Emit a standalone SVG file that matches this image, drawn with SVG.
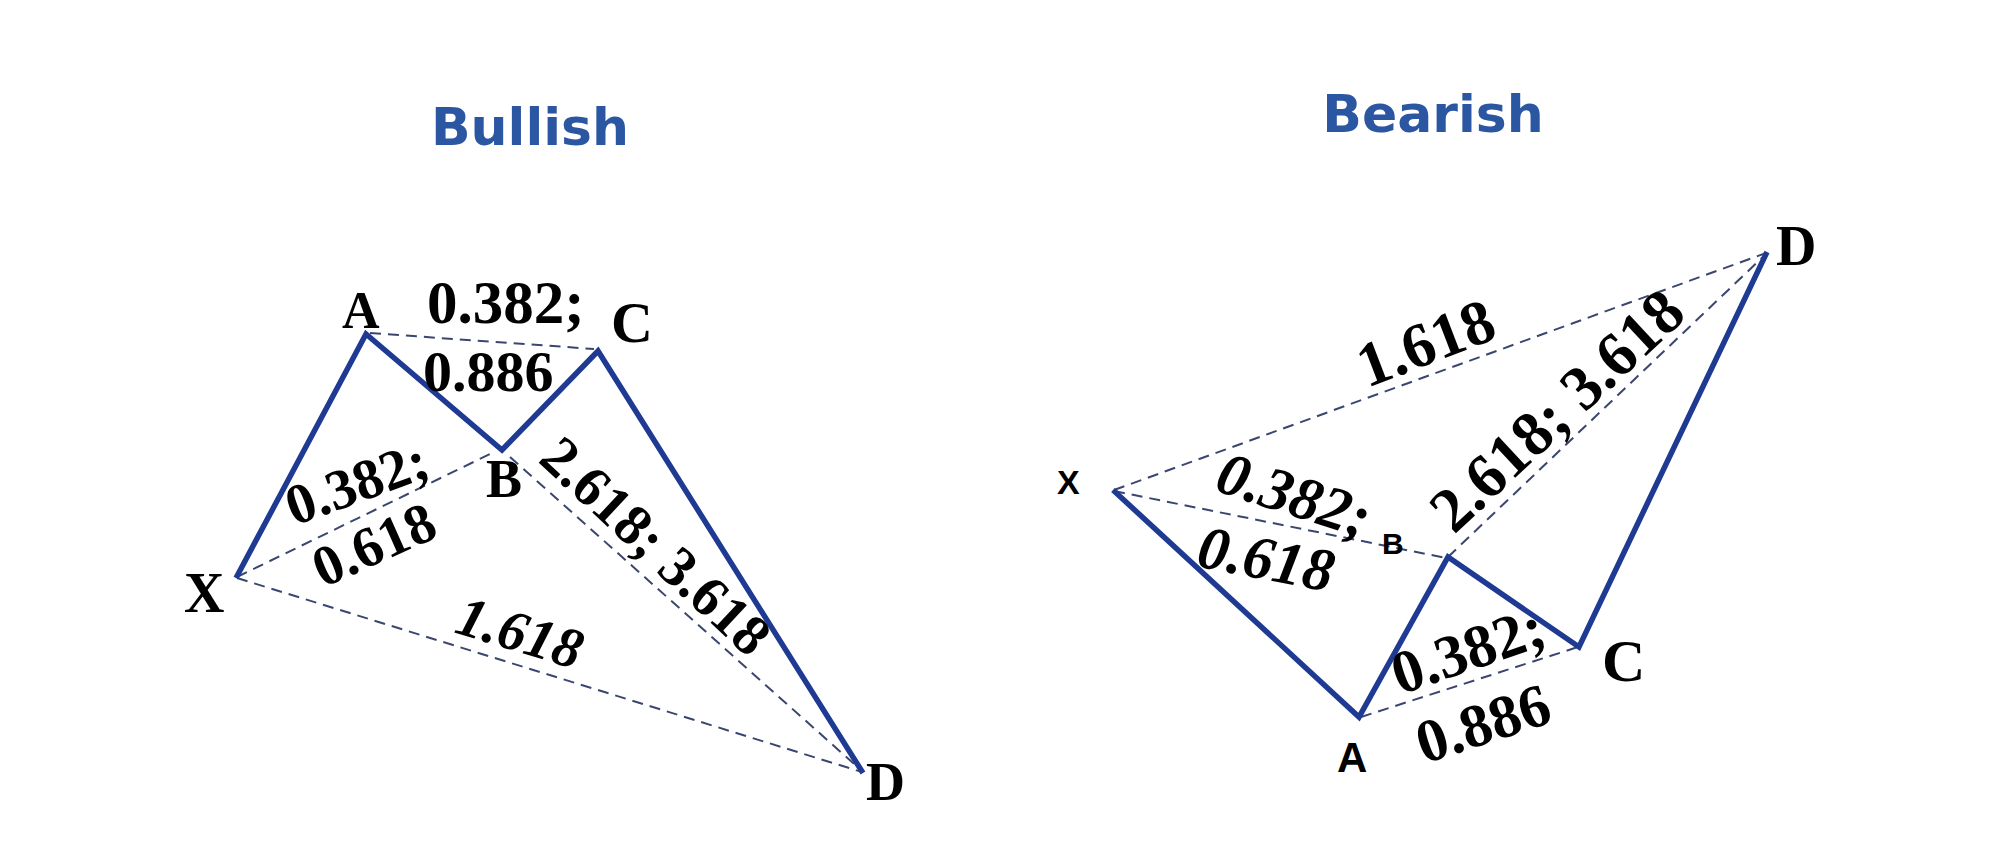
<svg xmlns="http://www.w3.org/2000/svg" width="1991" height="865" viewBox="0 0 1991 865">
<style>
.title{font-family:"DejaVu Sans",Verdana,sans-serif;font-weight:bold;font-size:52px;fill:#2b56a2;text-anchor:middle}
.pt{font-family:"Liberation Serif","Times New Roman",serif;font-weight:bold;fill:#000}
.pts{font-family:"Liberation Sans",Arial,sans-serif;font-weight:bold;fill:#000}
.r{font-family:"Liberation Serif","Times New Roman",serif;font-weight:bold;fill:#000}
.it{font-style:italic}
.solid{fill:none;stroke:#1f3a92;stroke-width:5.5;stroke-linejoin:miter;stroke-linecap:butt}
.dash{fill:none;stroke:#3b4670;stroke-width:2;stroke-dasharray:11 7}
</style>
<rect width="1991" height="865" fill="#fff"/>
<text class="title" x="530" y="145">Bullish</text>
<text class="title" x="1433" y="132">Bearish</text>
<g id="connectors">
<path class="dash" d="M370,333 L594,349"/>
<path class="dash" d="M237,577 L490,454"/>
<path class="dash" d="M237,578 L862,772"/>
<path class="dash" d="M510,457 L862,771"/>
<path class="solid" d="M236,578 L366,334 L502,450 L598,351 L863,773"/>
<path class="dash" d="M1114,490 L1766,253"/>
<path class="dash" d="M1114,491 L1446,558"/>
<path class="dash" d="M1448,557 L1766,254"/>
<path class="dash" d="M1361,717 L1578,647"/>
<path class="solid" d="M1113,490 L1359,717 L1448,557 L1579,647 L1767,252"/>
</g>
<g id="bull-X"><text class="pt" x="184" y="612" font-size="56">X</text></g>
<g id="bull-A"><text class="pt" x="342" y="328" font-size="52">A</text></g>
<g id="bull-B"><text class="pt" x="486" y="497" font-size="54">B</text></g>
<g id="bull-C"><text class="pt" x="611" y="342" font-size="58">C</text></g>
<g id="bull-D"><text class="pt" x="866" y="800" font-size="54">D</text></g>
<g id="bear-X"><text class="pts" x="1057" y="494" font-size="34">X</text></g>
<g id="bear-A"><text class="pts" x="1337" y="772" font-size="42">A</text></g>
<g id="bear-B"><text class="pts" x="1382" y="554" font-size="30">B</text></g>
<g id="bear-C"><text class="pt" x="1602" y="681" font-size="60">C</text></g>
<g id="bear-D"><text class="pt" x="1776" y="265" font-size="56">D</text></g>
<g id="bull-ratios" font-size="57">
<text class="r" x="427" y="323" font-size="61">0.382;</text>
<text class="r" x="423" y="391" font-size="58">0.886</text>
<text class="r" transform="translate(294,526) rotate(-20)">0.382;</text>
<text class="r" transform="translate(323,588) rotate(-24)">0.618</text>
<text class="r it" transform="translate(453,632) rotate(17)">1.618</text>
<text class="r" transform="translate(537,461) rotate(43)">2.618; 3.618</text>
</g>
<g id="bear-ratios" font-size="61">
<text class="r it" transform="translate(1213,490) rotate(18)">0.382;</text>
<text class="r it" transform="translate(1195,566) rotate(11)">0.618</text>
<text class="r" transform="translate(1367,388) rotate(-21)" font-size="63">1.618</text>
<text class="r" transform="translate(1454,535) rotate(-43)" font-size="63">2.618; 3.618</text>
<text class="r" transform="translate(1400,695) rotate(-19)">0.382;</text>
<text class="r" transform="translate(1424,764) rotate(-18)">0.886</text>
</g>
</svg>
